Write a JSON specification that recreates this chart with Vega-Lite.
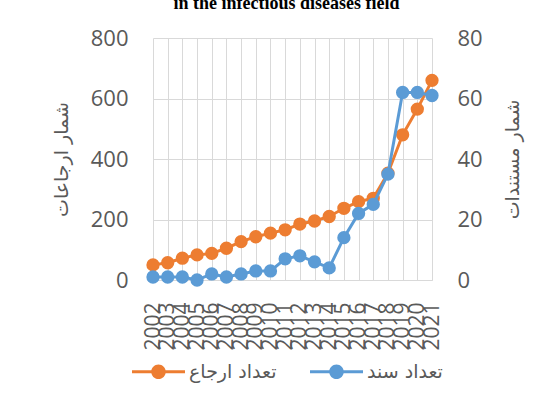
{
  "$schema": "https://vega.github.io/schema/vega-lite/v6.json",
  "width": 279,
  "height": 242,
  "autosize": {"type": "none"},
  "padding": {"left": 153, "top": 38, "right": 127, "bottom": 125},
  "background": "white",
  "title": {
    "text": "in the infectious diseases field",
    "font": "Liberation Serif",
    "fontSize": 18,
    "fontWeight": "bold",
    "color": "#000000",
    "anchor": "middle",
    "baseline": "alphabetic",
    "dx": -6,
    "offset": 0
  },
  "config": {
    "view": {"stroke": null},
    "axis": {
      "labelFont": "Open Sans",
      "labelColor": "#595959",
      "gridColor": "#d9d9d9",
      "gridWidth": 1,
      "ticks": false,
      "titleFont": "DejaVu Sans",
      "titleFontWeight": "normal",
      "titleColor": "#595959",
      "titleFontSize": 19
    }
  },
  "data": {
    "values": [
      {"year": "2002", "ref": 50, "doc": 1},
      {"year": "2003", "ref": 57, "doc": 1},
      {"year": "2004", "ref": 72, "doc": 1},
      {"year": "2005", "ref": 83, "doc": 0},
      {"year": "2006", "ref": 88, "doc": 2},
      {"year": "2007", "ref": 105, "doc": 1},
      {"year": "2008", "ref": 127, "doc": 2},
      {"year": "2009", "ref": 143, "doc": 3},
      {"year": "2010", "ref": 155, "doc": 3},
      {"year": "2011", "ref": 166, "doc": 7},
      {"year": "2012", "ref": 185, "doc": 8},
      {"year": "2013", "ref": 195, "doc": 6},
      {"year": "2014", "ref": 210, "doc": 4},
      {"year": "2015", "ref": 237, "doc": 14},
      {"year": "2016", "ref": 259, "doc": 22},
      {"year": "2017", "ref": 270, "doc": 25},
      {"year": "2018", "ref": 353, "doc": 35},
      {"year": "2019", "ref": 480, "doc": 62},
      {"year": "2020", "ref": 565, "doc": 62},
      {"year": "2021", "ref": 660, "doc": 61}
    ]
  },
  "encoding": {
    "x": {
      "field": "year",
      "type": "ordinal",
      "scale": {"type": "point", "padding": 0},
      "axis": {
        "title": null,
        "labelAngle": -90,
        "labelFontSize": 21,
        "labelPadding": 22,
        "labelOverlap": false,
        "grid": true,
        "domain": true,
        "domainColor": "#d9d9d9",
        "domainWidth": 1
      }
    }
  },
  "layer": [
    {
      "mark": {"type": "line", "strokeWidth": 3, "point": {"filled": true, "size": 177, "opacity": 1}},
      "encoding": {
        "y": {
          "field": "ref",
          "type": "quantitative",
          "scale": {"domain": [0, 800]},
          "axis": {
            "orient": "left",
            "values": [0, 200, 400, 600, 800],
            "domain": false,
            "grid": true,
            "labelFontSize": 22,
            "labelPadding": 25,
            "title": "شمار ارجاعات",
            "titleAngle": -90,
            "titleX": -92,
            "titleY": 121,
            "titleAlign": "center",
            "titleBaseline": "middle"
          }
        },
        "color": {
          "datum": "تعداد ارجاع",
          "type": "nominal",
          "scale": {"domain": ["تعداد ارجاع", "تعداد سند"], "range": ["#ED7D31", "#5B9BD5"]},
          "legend": {
            "title": null,
            "orient": "none",
            "direction": "horizontal",
            "legendX": -21,
            "legendY": 307,
            "padding": 0,
            "symbolType": "M-1,-0.06 L1,-0.06 L1,0.06 L-1,0.06 Z M0.275,0 A0.275,0.275 0 1,1 -0.275,0 A0.275,0.275 0 1,1 0.275,0 Z",
            "symbolSize": 2809,
            "symbolStrokeWidth": 0,
            "labelFont": "DejaVu Sans",
            "labelFontSize": 19,
            "labelColor": "#595959",
            "labelOffset": 4,
            "columnPadding": 33,
            "encode": {
              "symbols": {
                "update": {
                  "fill": {"scale": "color", "field": "value"},
                  "strokeWidth": {"value": 0},
                  "opacity": {"value": 1}
                }
              }
            }
          }
        }
      }
    },
    {
      "mark": {"type": "line", "strokeWidth": 3, "point": {"filled": true, "size": 177, "opacity": 1}},
      "encoding": {
        "y": {
          "field": "doc",
          "type": "quantitative",
          "scale": {"domain": [0, 80]},
          "axis": {
            "orient": "right",
            "values": [0, 20, 40, 60, 80],
            "domain": false,
            "grid": false,
            "labelFontSize": 22,
            "labelPadding": 25,
            "title": "شمار مستندات",
            "titleAngle": -90,
            "titleX": 80,
            "titleY": 121,
            "titleAlign": "center",
            "titleBaseline": "middle"
          }
        },
        "color": {"datum": "تعداد سند", "type": "nominal"}
      }
    }
  ],
  "resolve": {"scale": {"y": "independent"}}
}
